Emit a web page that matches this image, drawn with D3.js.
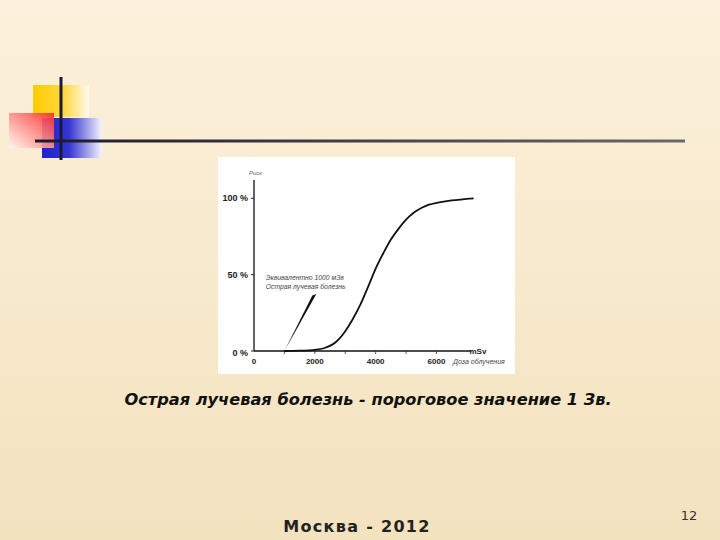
<!DOCTYPE html>
<html>
<head>
<meta charset="utf-8">
<script src="https://cdn.jsdelivr.net/npm/d3@7"></script>
<style>
  html, body { margin: 0; padding: 0; }
  body { width: 720px; height: 540px; overflow: hidden; }
</style>
</head>
<body>
<div id="slide"></div>
<script>
// dose (mSv) vs risk (%)
const doses = [1000, 1500, 2000, 2300, 2600, 2800, 3000, 3250, 3500, 3750, 4000, 4250, 4500, 4750, 5000, 5250, 5500, 5750, 6000, 6500, 7220];
const risks = [0, 0.2, 0.8, 1.8, 4.5, 8, 13, 21, 30.5, 42, 54, 64, 73, 80, 86, 90.5, 93.6, 95.8, 97, 98.6, 100];

const xTicks = [0, 2000, 4000, 6000];
const xMinorTicks = [1000, 2000, 3000, 4000, 5000, 6000];
const yTicks = [0, 50, 100];
const yTickLabels = ["0 %", "50 %", "100 %"];

// arrow from 1000 mSv threshold up to the note
const arrowFrom = {dose: 1000, risk: 0};
const arrowTo = {dose: 2000, risk: 37};
const noteLines = ["Эквивалентно 1000 мЗв", "Острая лучевая болезнь"];

const caption = "Острая лучевая болезнь - пороговое значение 1 Зв.";
const footer = "Москва - 2012";
const pageNum = "12";

const width = 720, height = 540;

const svg = d3.select("#slide")
  .append("svg")
  .attr("width", width)
  .attr("height", height);

const defs = svg.append("defs");

// slide background
const bg = defs.append("linearGradient").attr("id", "bg")
  .attr("x1", 0).attr("y1", 0).attr("x2", 0).attr("y2", 1);
bg.append("stop").attr("offset", "0%").attr("stop-color", "#fcf1dc");
bg.append("stop").attr("offset", "100%").attr("stop-color", "#f3e2be");
svg.append("rect").attr("width", width).attr("height", height).attr("fill", "url(#bg)");

// decorative squares
const yel = defs.append("linearGradient").attr("id", "yel");
yel.append("stop").attr("offset", "0%").attr("stop-color", "#ffcc00");
yel.append("stop").attr("offset", "55%").attr("stop-color", "#ffd840");
yel.append("stop").attr("offset", "100%").attr("stop-color", "#fffaf0");
const red = defs.append("linearGradient").attr("id", "red")
  .attr("x1", 1).attr("y1", 0).attr("x2", 0).attr("y2", 1);
red.append("stop").attr("offset", "0%").attr("stop-color", "#ff2a2a");
red.append("stop").attr("offset", "100%").attr("stop-color", "#fff6f0");
const blu = defs.append("linearGradient").attr("id", "blu");
blu.append("stop").attr("offset", "0%").attr("stop-color", "#2222cc");
blu.append("stop").attr("offset", "45%").attr("stop-color", "#3535d0");
blu.append("stop").attr("offset", "100%").attr("stop-color", "#f4f4ff");

svg.append("rect").attr("x", 33).attr("y", 85).attr("width", 56).attr("height", 32).attr("fill", "url(#yel)");
svg.append("rect").attr("x", 42).attr("y", 118).attr("width", 60).attr("height", 40).attr("fill", "url(#blu)");
svg.append("rect").attr("x", 9).attr("y", 113).attr("width", 45).attr("height", 35).attr("fill", "url(#red)").attr("opacity", 0.9);

const hl = defs.append("linearGradient").attr("id", "hl");
hl.append("stop").attr("offset", "0%").attr("stop-color", "#1a1a2a");
hl.append("stop").attr("offset", "100%").attr("stop-color", "#6a6a6a");
svg.append("rect").attr("x", 35).attr("y", 139.5).attr("width", 650).attr("height", 3).attr("fill", "url(#hl)");
svg.append("rect").attr("x", 59.5).attr("y", 77).attr("width", 3).attr("height", 83).attr("fill", "#1a1a3a");

// chart picture
svg.append("rect").attr("x", 218).attr("y", 157).attr("width", 297).attr("height", 217).attr("fill", "#ffffff");

const x = d3.scaleLinear().domain([0, 6000]).range([254, 436.5]);
const y = d3.scaleLinear().domain([0, 100]).range([351, 198.3]);

const chart = svg.append("g")
  .style("font-family", "'Liberation Sans Narrow', 'Liberation Sans', sans-serif");

// axes lines
chart.append("line")
  .attr("x1", x(0)).attr("x2", x(0)).attr("y1", y(0)).attr("y2", y(112))
  .attr("stroke", "#111").attr("stroke-width", 1.3);
chart.append("line")
  .attr("x1", x(0)).attr("x2", x(7150)).attr("y1", y(0)).attr("y2", y(0))
  .attr("stroke", "#111").attr("stroke-width", 1.3);

// x ticks
chart.selectAll(".xt").data(xMinorTicks).enter().append("line")
  .attr("x1", d => x(d)).attr("x2", d => x(d))
  .attr("y1", y(0)).attr("y2", y(0) + 3)
  .attr("stroke", "#333").attr("stroke-width", 0.8);
chart.selectAll(".xl").data(xTicks).enter().append("text")
  .attr("x", d => x(d)).attr("y", y(0) + 13)
  .attr("text-anchor", "middle")
  .attr("font-size", 8).attr("font-weight", "bold").attr("fill", "#222")
  .text(d => d);

// y ticks
chart.selectAll(".yt").data(yTicks).enter().append("line")
  .attr("x1", x(0) - 3).attr("x2", x(0))
  .attr("y1", d => y(d)).attr("y2", d => y(d))
  .attr("stroke", "#222").attr("stroke-width", 1);
chart.selectAll(".yl").data(yTicks).enter().append("text")
  .attr("x", x(0) - 6).attr("y", d => y(d) + (d === 0 ? 5 : 3))
  .attr("text-anchor", "end")
  .attr("font-size", 9).attr("font-weight", "bold").attr("fill", "#222")
  .text((d, i) => yTickLabels[i]);

// axis titles
chart.append("text").attr("x", 249).attr("y", 175)
  .attr("font-size", 6).attr("fill", "#666").attr("font-style", "italic").text("Риск");
chart.append("text").attr("x", x(7150) - 2).attr("y", y(0) + 3)
  .attr("font-size", 8).attr("font-weight", "bold").attr("fill", "#222").text("mSv");
chart.append("text").attr("x", 453).attr("y", 364)
  .attr("font-size", 7).attr("font-style", "italic").attr("fill", "#444").text("Доза облучения");

// curve
const line = d3.line()
  .x((d, i) => x(doses[i]))
  .y((d, i) => y(risks[i]))
  .curve(d3.curveCatmullRom.alpha(0.5));
chart.append("path")
  .datum(doses)
  .attr("fill", "none")
  .attr("stroke", "#111")
  .attr("stroke-width", 1.8)
  .attr("d", line);

// arrow wedge
const ax0 = x(arrowFrom.dose), ay0 = y(arrowFrom.risk);
const ax1 = x(arrowTo.dose), ay1 = y(arrowTo.risk);
chart.append("path")
  .attr("d", `M${ax0},${ay0} L${ax1 - 2.5},${ay1 + 1} L${ax1 + 1.5},${ay1 - 0.5} Z`)
  .attr("fill", "#111");

// note
chart.selectAll(".note").data(noteLines).enter().append("text")
  .attr("x", x(385)).attr("y", (d, i) => y(46.5) + i * 9)
  .attr("font-size", 6.8).attr("font-style", "italic").attr("fill", "#444")
  .text(d => d);

// caption and footer
svg.append("text")
  .attr("x", 368).attr("y", 405)
  .attr("text-anchor", "middle")
  .attr("font-family", "'DejaVu Sans', Verdana, sans-serif")
  .attr("font-style", "italic")
  .attr("font-weight", "bold")
  .attr("font-size", 16.2)
  .attr("fill", "#111")
  .text(caption);

svg.append("text")
  .attr("x", 357).attr("y", 532)
  .attr("text-anchor", "middle")
  .attr("font-family", "'DejaVu Sans', Verdana, sans-serif")
  .attr("font-weight", "bold")
  .attr("font-size", 16)
  .attr("letter-spacing", 1.3)
  .attr("fill", "#222")
  .text(footer);

svg.append("text")
  .attr("x", 689).attr("y", 520)
  .attr("text-anchor", "middle")
  .attr("font-family", "'DejaVu Sans', Verdana, sans-serif")
  .attr("font-size", 13)
  .attr("fill", "#333")
  .text(pageNum);
</script>
</body>
</html>
